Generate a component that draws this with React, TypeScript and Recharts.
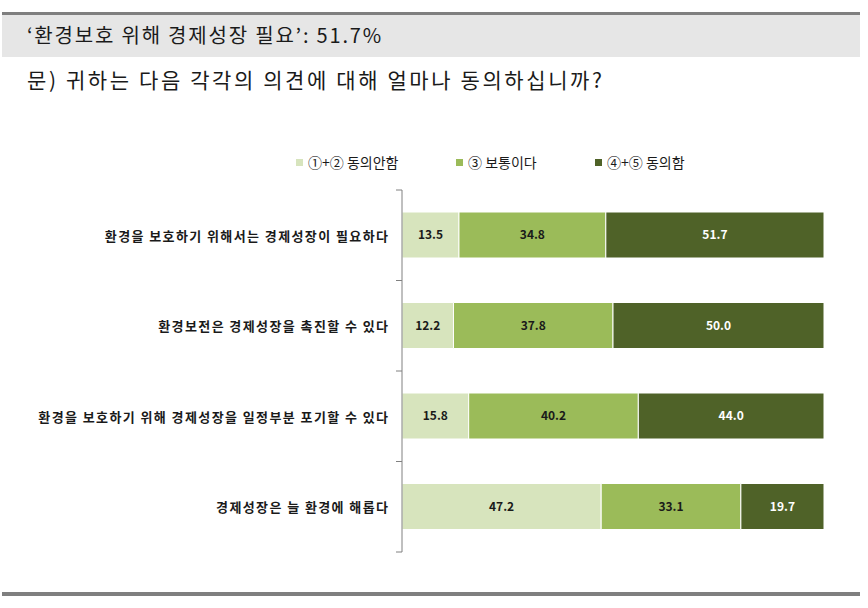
import React from 'react';
import { BarChart, Bar, XAxis, YAxis, LabelList } from 'recharts';

const categories = [
  '환경을 보호하기 위해서는 경제성장이 필요하다',
  '환경보전은 경제성장을 촉진할 수 있다',
  '환경을 보호하기 위해 경제성장을 일정부분 포기할 수 있다',
  '경제성장은 늘 환경에 해롭다',
];
const disagree = [13.5, 12.2, 15.8, 47.2];
const neutral = [34.8, 37.8, 40.2, 33.1];
const agree = [51.7, 50.0, 44.0, 19.7];

const seriesNames = ['①+② 동의안함', '③ 보통이다', '④+⑤ 동의함'];
const seriesColors = ['#D7E4BD', '#9BBB59', '#4F6228'];
const labelColors = ['#1a1a1a', '#1a1a1a', '#ffffff'];

const title = '‘환경보호 위해 경제성장 필요’: 51.7%';
const question = '문) 귀하는 다음 각각의 의견에 대해 얼마나 동의하십니까?';

const data = categories.map((name, i) => ({
  name,
  disagree: disagree[i],
  neutral: neutral[i],
  agree: agree[i],
}));
const keys = ['disagree', 'neutral', 'agree'];

const font = '"Noto Sans CJK KR", "Noto Sans", sans-serif';
const TICK_SIZE = 6;
const TICK_MARGIN = 8;

const CategoryTick = (props: any) => {
  const { x, y, payload, index } = props;
  const off = payload && payload.offset != null ? payload.offset : 45.25;
  const axisX = x + TICK_SIZE + TICK_MARGIN;
  return (
    <g>
      <text
        x={x + 1.4}
        y={y}
        textAnchor="end"
        dominantBaseline="central"
        fontSize={13}
        fontWeight={700}
        fontFamily={font}
        letterSpacing={1.4}
        fill="#1a1a1a"
      >
        {payload.value}
      </text>
      {index === 0 && (
        <line x1={axisX - TICK_SIZE} x2={axisX} y1={y - off} y2={y - off} stroke="#808080" />
      )}
      <line x1={axisX - TICK_SIZE} x2={axisX} y1={y + off} y2={y + off} stroke="#808080" />
    </g>
  );
};

const legendX = [296, 456, 595];

export default function App() {
  return (
    <div
      style={{
        position: 'absolute',
        left: 0,
        top: 0,
        width: 868,
        height: 608,
        background: '#fff',
        fontFamily: font,
        overflow: 'hidden',
      }}
    >
      <div style={{ position: 'absolute', left: 2, top: 12, width: 858, height: 3, background: '#7f7f7f' }} />
      <div style={{ position: 'absolute', left: 2, top: 15, width: 858, height: 42, background: '#e6e6e6' }} />
      <div
        style={{
          position: 'absolute',
          left: 27,
          top: 22,
          fontSize: 20,
          lineHeight: '26px',
          letterSpacing: 1.8,
          color: '#1a1a1a',
          whiteSpace: 'nowrap',
        }}
      >
        {title}
      </div>
      <div
        style={{
          position: 'absolute',
          left: 27,
          top: 66,
          fontSize: 21,
          lineHeight: '26px',
          letterSpacing: 2.6,
          color: '#1a1a1a',
          whiteSpace: 'nowrap',
        }}
      >
        {question}
      </div>

      {seriesNames.map((n, i) => (
        <div
          key={n}
          style={{
            position: 'absolute',
            left: legendX[i],
            top: 152,
            height: 20,
            display: 'flex',
            alignItems: 'center',
            fontSize: 14,
            color: '#1a1a1a',
            whiteSpace: 'nowrap',
          }}
        >
          <span style={{ width: 7, height: 7, background: seriesColors[i], marginRight: 5 }} />
          {n}
        </div>
      ))}

      <div style={{ position: 'absolute', left: 0, top: 0 }}>
        <BarChart
          width={868}
          height={608}
          data={data}
          layout="vertical"
          margin={{ top: 190, right: 44, bottom: 56, left: 0 }}
        >
          <XAxis type="number" domain={[0, 100]} hide />
          <YAxis
            type="category"
            dataKey="name"
            width={402}
            axisLine={{ stroke: '#808080' }}
            tickLine={false}
            tickSize={TICK_SIZE}
            tickMargin={TICK_MARGIN}
            tick={<CategoryTick />}
            interval={0}
          />
          {keys.map((k, i) => (
            <Bar
              key={k}
              dataKey={k}
              name={seriesNames[i]}
              stackId="a"
              fill={seriesColors[i]}
              stroke="#ffffff"
              strokeWidth={1}
              barSize={46}
              isAnimationActive={false}
            >
              <LabelList
                dataKey={k}
                position="center"
                formatter={(v: any) => Number(v).toFixed(1)}
                fill={labelColors[i]}
                fontSize={12}
                fontWeight={700}
                fontFamily={font}
              />
            </Bar>
          ))}
        </BarChart>
      </div>

      <div style={{ position: 'absolute', left: 2, top: 592, width: 858, height: 4, background: '#7f7f7f' }} />
    </div>
  );
}
